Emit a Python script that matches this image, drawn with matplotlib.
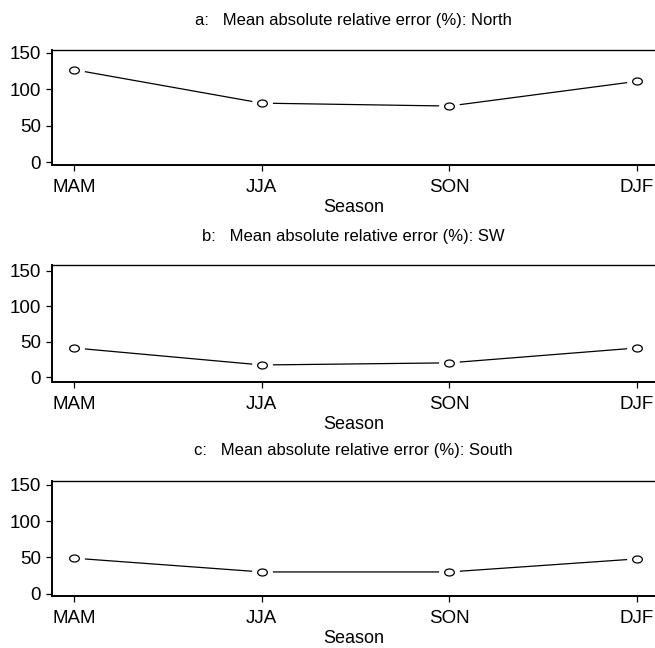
import numpy as np
import matplotlib
matplotlib.use('Agg')
import matplotlib.pyplot as plt
from matplotlib.path import Path
from matplotlib.transforms import Affine2D

plt.rcParams['font.family'] = ['Liberation Sans', 'DejaVu Sans']

seasons = ['MAM', 'JJA', 'SON', 'DJF']
north = [127, 81, 77, 111]
sw = [41, 17, 20, 41]
south = [49, 30, 30, 48]

panels = [
    ('a:   Mean absolute relative error (%): North', north),
    ('b:   Mean absolute relative error (%): SW', sw),
    ('c:   Mean absolute relative error (%): South', south),
]

# axes boxes in pixels (top, bottom) and y limits
W, H = 655, 648
boxes = [(50, 165), (265, 382), (481, 596)]
ylims = [(-4.1, 154.1), (-7, 158), (-3.2, 155.5)]
title_y = [21, 236, 451]

ellipse = Path.unit_circle().transformed(Affine2D().scale(1.0, 0.72))

fig = plt.figure(figsize=(W / 100, H / 100), dpi=100)
x = np.arange(1, len(seasons) + 1)
for (title, vals), (top, bot), yl, ty in zip(panels, boxes, ylims, title_y):
    left = 52 / W
    ax = fig.add_axes([left, 1 - bot / H, 1.0 - left, (bot - top) / H])
    ax.plot(x, vals, color='black', lw=0.9, zorder=1)
    # white halo to leave gaps around points, like R type="b"
    ax.plot(x, vals, ls='none', marker='o', ms=15, mfc='white', mec='none', zorder=2)
    ax.plot(x, vals, ls='none', marker=ellipse, ms=7, mfc='white', mec='black',
            mew=0.9, zorder=3)
    ax.set_xlim(0.883, 4.096)
    ax.set_ylim(*yl)
    ax.set_xticks(x)
    ax.set_xticklabels(seasons)
    ax.set_yticks([0, 50, 100, 150])
    ax.tick_params(axis='both', labelsize=13.5, length=4, width=0.9, color='black')
    ax.tick_params(axis='y', pad=4)
    ax.tick_params(axis='x', pad=6)
    ax.spines['right'].set_visible(False)
    ax.spines['top'].set_linewidth(1.0)
    ax.spines['left'].set_linewidth(1.4)
    ax.spines['bottom'].set_linewidth(1.4)
    ax.set_xlabel('Season', fontsize=13, labelpad=2)
    fig.text((52 + W) / 2 / W, 1 - ty / H, title, ha='center', va='center', fontsize=12)

fig.savefig('out.png', dpi=100)
